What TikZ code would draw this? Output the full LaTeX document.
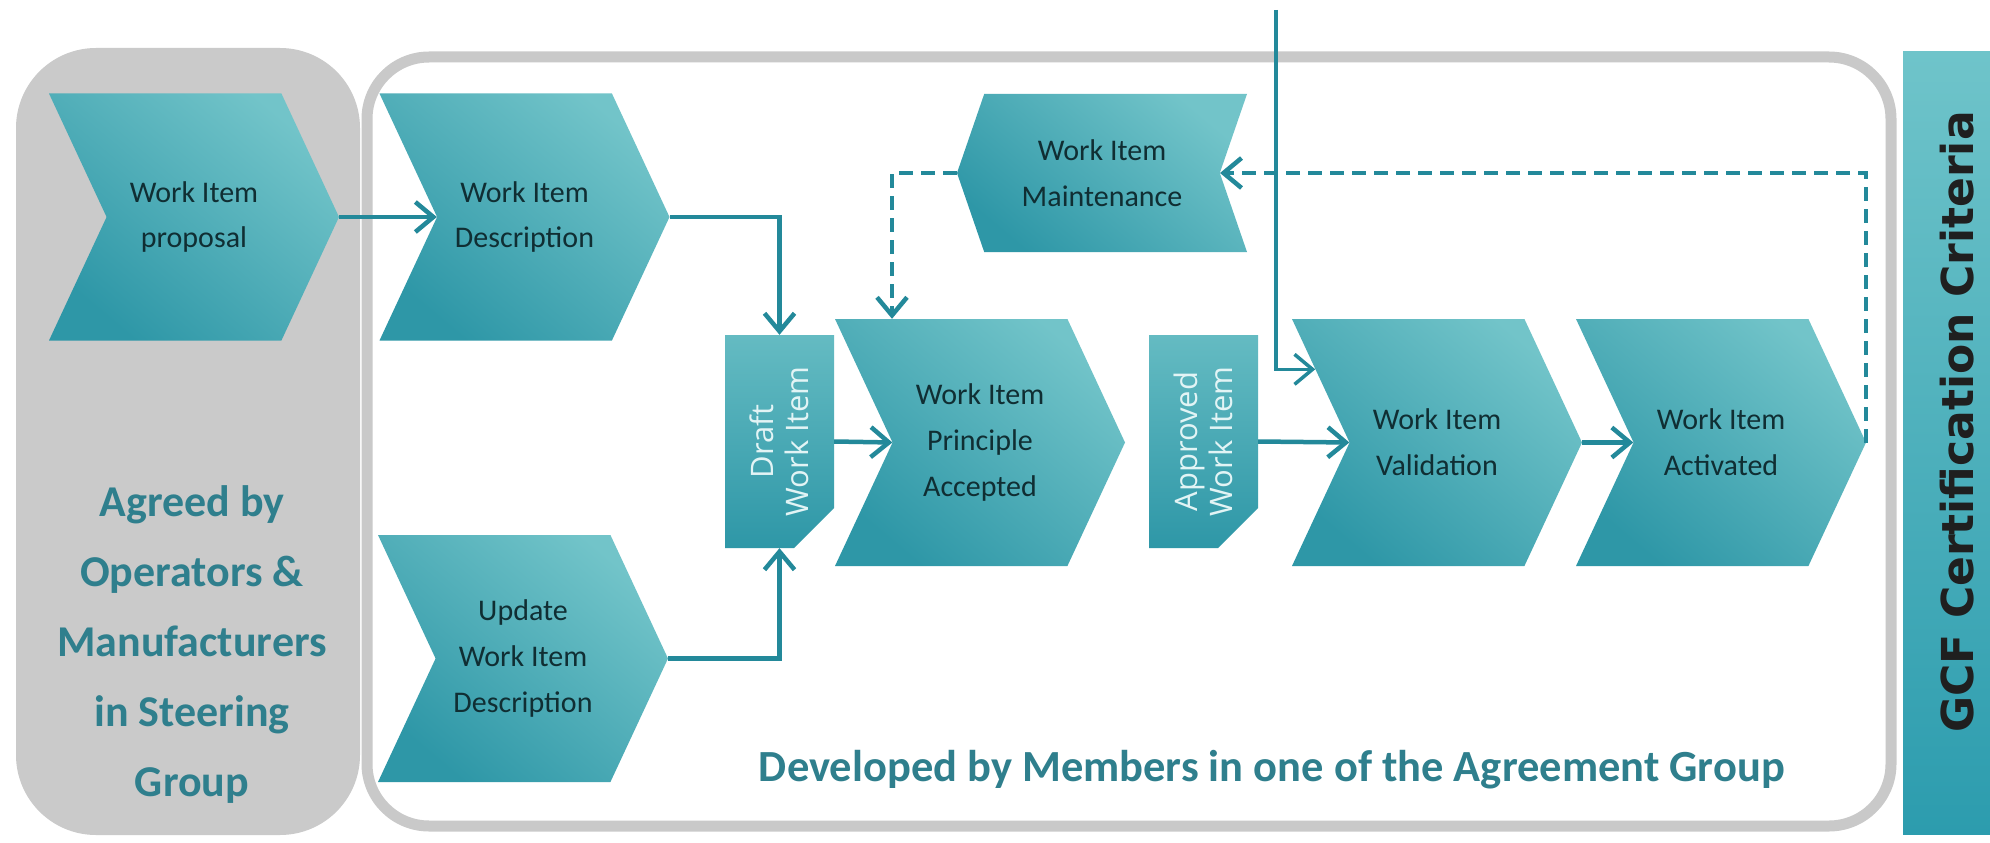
\documentclass[tikz,border=0pt]{standalone}
\usepackage{fontspec}
\setmainfont{Carlito}
\newfontfamily\opensans{Open Sans}
\newfontfamily\dejavu{DejaVu Sans}
\usetikzlibrary{positioning,shapes.symbols,shapes.misc,arrows.meta}

\definecolor{chevlight}{HTML}{72C4C9}
\definecolor{chevdark}{HTML}{2E97A7}
\definecolor{chevtext}{HTML}{102E33}
\definecolor{boxgray}{HTML}{CACACA}
\definecolor{framegray}{HTML}{C9C9C9}
\definecolor{headteal}{HTML}{2F7F8D}
\definecolor{flowteal}{HTML}{23899A}
\definecolor{gcflight}{HTML}{6FC4CA}
\definecolor{gcfdark}{HTML}{2C9CAE}
\definecolor{doctext}{HTML}{E2F4F5}

\begin{document}
\begin{tikzpicture}
	[x=1pt,y=-1pt,
	chev/.style={signal,signal to=east,signal from=west,signal pointer angle=130,
		minimum width=290pt,minimum height=247pt,inner sep=0pt,
		top color=chevlight,bottom color=chevdark,shading angle=-40,
		text=chevtext,align=center,font=\fontsize{30}{46}\selectfont},
	backchev/.style={chev,signal to=west,signal from=east,signal pointer angle=142,minimum height=158pt},
	docbox/.style={chamfered rectangle,chamfered rectangle corners=south west,
		chamfered rectangle xsep=20pt,chamfered rectangle ysep=20pt,rotate=90,
		minimum width=213pt,minimum height=109pt,inner sep=0pt,
		top color=chevlight!80!chevdark,bottom color=chevdark,
		text=doctext,align=center,font=\opensans\fontsize{31}{35}\selectfont},
	steerbox/.style={fill=boxgray,rounded corners=80pt,minimum width=344pt,minimum height=787pt},
	panel/.style={draw=framegray,line width=11pt,fill=white,rounded corners=62pt,
		minimum width=1524pt,minimum height=769pt},
	gcfbar/.style={top color=gcflight,bottom color=gcfdark,
		minimum width=104pt,minimum height=782pt},
	gcflabel/.style={rotate=90,text=black!88,font=\dejavu\bfseries\fontsize{44}{50}\selectfont},
	heading/.style={text=headteal,align=center,font=\bfseries\fontsize{44}{70}\selectfont},
	flow/.style={draw=flowteal,line width=4.5pt,-{Straight Barb[length=18pt,width=30pt]}},
	loopback/.style={flow,dash pattern=on 14pt off 8pt}]
	\useasboundingbox (0,0) rectangle (1990,843);

	% groups
	\node[steerbox] (steer) at (188,441.5) {};
	\node[panel] (panel) at (1129,441.5) {};
	\node[gcfbar] (gcf) at (1955,443) {};
	\node[gcflabel] (gcftext) at (1957,422) {GCF Certification Criteria};
	\node[heading] (steertext) at (192,645) {Agreed by\\Operators \&\\Manufacturers\\in Steering\\Group};
	\node[heading,font=\bfseries\fontsize{44.5}{50}\selectfont] (devtext) at (1272,770) {Developed by Members in one of the Agreement Group};

	% steps
	\node[chev] (prop) at (194,217) {Work Item\\proposal};
	\node[chev] (desc) at (524.5,217) {Work Item\\Description};
	\node[chev] (upd) at (523,658.5) {Update\\Work Item\\Description};
	\node[chev] (princ) at (980,442.5) {Work Item\\Principle\\Accepted};
	\node[chev] (valid) at (1437,442.5) {Work Item\\Validation};
	\node[chev] (activ) at (1721,442.5) {Work Item\\Activated};
	\node[backchev] (maint) at (1102,173) {Work Item\\Maintenance};
	\node[docbox] (draft) at (779.5,441.5) {Draft\\Work Item};
	\node[docbox] (appr) at (1203.5,441.5) {Approved\\Work Item};
	\coordinate (feed) at (1276,10);

	\foreach \from/\to in
	{prop.east/desc.west, draft.south/princ.west, appr.south/valid.west, valid.east/activ.west}
	\draw[flow] (\from) -- (\to);
	\draw[flow] (desc.east) -| (draft.east);
	\draw[flow] (upd.east) -| (draft.west);
	\draw[loopback] (activ.east) |- (maint.east);
	\draw[loopback] (maint.west) -| ([xshift=-88pt]princ.north);
	\draw[flow,line width=3.5pt] (feed) |- (valid.149);
\end{tikzpicture}
\end{document}
